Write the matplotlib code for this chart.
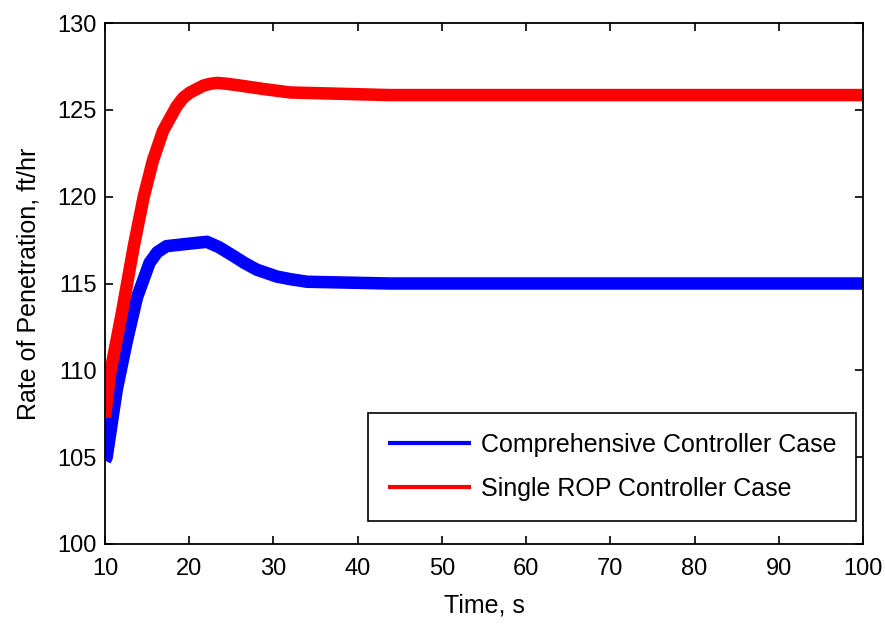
import matplotlib
matplotlib.use('Agg')
import matplotlib.pyplot as plt

# values
t_comp = [10, 10.2, 11.4, 12.6, 13.8, 15.3, 16.2, 17.3, 20.1, 22.1, 23.5, 25.2, 26.5, 28.0, 30.4, 32.0, 34.0, 43.8, 60, 80, 100]
rop_comp = [104.8, 105.0, 108.9, 111.7, 114.2, 116.2, 116.8, 117.15, 117.3, 117.4, 117.1, 116.6, 116.2, 115.8, 115.4, 115.25, 115.1, 115.0, 115.0, 115.0, 115.0]

t_single = [10, 10.6, 12.0, 13.4, 14.6, 15.7, 16.9, 18.5, 19.3, 20.1, 21.7, 22.5, 23.3, 24.5, 26.0, 28.8, 32.0, 43.8, 60, 80, 100]
rop_single = [107.3, 109.8, 113.3, 117.1, 120.0, 122.1, 123.8, 125.2, 125.7, 126.0, 126.4, 126.5, 126.55, 126.5, 126.4, 126.2, 126.0, 125.85, 125.85, 125.85, 125.85]

labels = ['Comprehensive Controller Case', 'Single ROP Controller Case']

plt.rcParams['font.family'] = ['Liberation Sans', 'DejaVu Sans']

fig = plt.figure(figsize=(8.85, 6.36), dpi=100)
ax = fig.add_axes([105/885, 92/636, 758/885, 521/636])

ax.plot(t_comp, rop_comp, color='#0000ff', lw=9, label=labels[0], solid_capstyle='butt')
ax.plot(t_single, rop_single, color='#ff0000', lw=9, label=labels[1], solid_capstyle='butt')

ax.set_xlim(10, 100)
ax.set_ylim(100, 130)
ax.set_xticks(range(10, 101, 10))
ax.set_yticks(range(100, 131, 5))
ax.tick_params(direction='in', length=6, width=1.2, top=True, right=True, labelsize=17)
ax.tick_params(axis='x', pad=10)
ax.tick_params(axis='y', pad=6)
for s in ax.spines.values():
    s.set_linewidth(1.3)

ax.set_xlabel('Time, s', fontsize=18, labelpad=10)
ax.set_ylabel('Rate of Penetration, ft/hr', fontsize=18, labelpad=12)

leg = ax.legend(loc='lower right', bbox_to_anchor=(0.991, 0.044), borderaxespad=0,
                fancybox=False, edgecolor='black', framealpha=1, fontsize=18,
                handlelength=3.3, handletextpad=0.4, labelspacing=0.8, borderpad=0.8)
leg.get_frame().set_linewidth(1.2)
for h in leg.get_lines():
    h.set_linewidth(3)

fig.savefig('out.png', dpi=100)
